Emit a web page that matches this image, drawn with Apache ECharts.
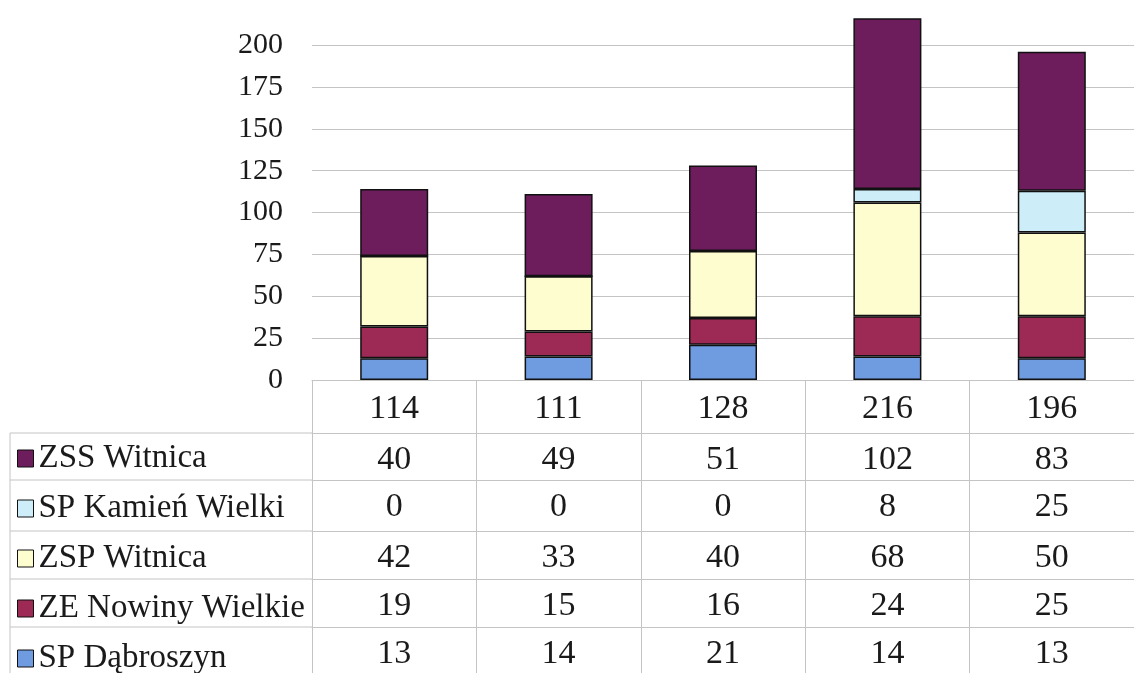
<!DOCTYPE html>
<html>
<head>
<meta charset="utf-8">
<script src="https://cdn.jsdelivr.net/npm/echarts@6/dist/echarts.min.js"></script>
<style>
  html, body { margin: 0; padding: 0; background: #fff; }
  #chart { width: 1134px; height: 673px; }
</style>
</head>
<body>
<div id="chart"></div>
<script>
// header row of the table = column totals
const categories = ['114', '111', '128', '216', '196'];
const yTicks = [0, 25, 50, 75, 100, 125, 150, 175, 200];

const spDabroszyn = [13, 14, 21, 14, 13];
const zeNowiny = [19, 15, 16, 24, 25];
const zspWitnica = [42, 33, 40, 68, 50];
const spKamien = [0, 0, 0, 8, 25];
const zssWitnica = [40, 49, 51, 102, 83];

const fontFamily = '"Liberation Serif", "Times New Roman", serif';
const textColor = '#1a1a1a';
const lineColor = '#c4c4c4';

// table rows, top to bottom
const tableRows = [
    { name: 'ZSS Witnica', data: zssWitnica, color: '#6d1d5c' },
    { name: 'SP Kamień Wielki', data: spKamien, color: '#cdeef9' },
    { name: 'ZSP Witnica', data: zspWitnica, color: '#fefdcf' },
    { name: 'ZE Nowiny Wielkie', data: zeNowiny, color: '#9c2a55' },
    { name: 'SP Dąbroszyn', data: spDabroszyn, color: '#6f9be0' }
];

const gridLeft = 312;
const gridTop = 45;
const axisY = 380;
const rowOffsets = [53, 100, 151, 199, 247];

const chart = echarts.init(document.getElementById('chart'));

const xAxes = [{
    type: 'category',
    data: categories,
    position: 'bottom',
    axisLine: { show: true, lineStyle: { color: lineColor, width: 1 } },
    axisTick: { show: true, interval: 0, length: 300, lineStyle: { color: lineColor, width: 1 } },
    axisLabel: { interval: 0, margin: 12, fontSize: 34, color: textColor, fontFamily: fontFamily }
}];
tableRows.forEach(function (row, k) {
    xAxes.push({
        type: 'category',
        data: categories,
        position: 'bottom',
        offset: rowOffsets[k],
        axisLine: { show: true, lineStyle: { color: lineColor, width: 1 } },
        axisTick: { show: false },
        axisLabel: {
            interval: 0,
            margin: 10,
            fontSize: 34,
            color: textColor,
            fontFamily: fontFamily,
            formatter: function (v, idx) { return String(row.data[idx]); }
        }
    });
});

// stack from the bottom up
const series = tableRows.slice().reverse().map(function (row) {
    return {
        name: row.name,
        type: 'bar',
        stack: 'total',
        barWidth: 68,
        clip: false,
        data: row.data,
        itemStyle: { color: row.color, borderColor: '#111', borderWidth: 1.5 }
    };
});

// left column borders of the table (legend side)
const graphics = rowOffsets.map(function (off) {
    return {
        type: 'line',
        shape: { x1: 10, y1: axisY + off, x2: gridLeft, y2: axisY + off },
        style: { stroke: lineColor, lineWidth: 1 },
        silent: true
    };
});
graphics.push({
    type: 'line',
    shape: { x1: 10, y1: axisY + rowOffsets[0], x2: 10, y2: 673 },
    style: { stroke: lineColor, lineWidth: 1 },
    silent: true
});

chart.setOption({
    backgroundColor: '#ffffff',
    animation: false,
    textStyle: { fontFamily: fontFamily },
    grid: { left: gridLeft, top: gridTop, width: 837, height: axisY - gridTop },
    legend: {
        orient: 'vertical',
        left: 17,
        top: 442,
        height: 260,
        padding: 0,
        itemWidth: 16,
        itemHeight: 17,
        itemGap: 17,
        icon: 'rect',
        selectedMode: false,
        data: tableRows.map(function (r) { return r.name; }),
        itemStyle: { borderColor: '#111', borderWidth: 1 },
        textStyle: { fontSize: 33, lineHeight: 32, color: textColor, fontFamily: fontFamily }
    },
    xAxis: xAxes,
    yAxis: {
        type: 'value',
        min: yTicks[0],
        max: yTicks[yTicks.length - 1],
        interval: yTicks[1] - yTicks[0],
        axisLine: { show: false },
        axisTick: { show: false },
        splitLine: { show: true, lineStyle: { color: lineColor, width: 1 } },
        axisLabel: { margin: 29, fontSize: 30, color: textColor, fontFamily: fontFamily }
    },
    graphic: graphics,
    series: series
});
</script>
</body>
</html>
